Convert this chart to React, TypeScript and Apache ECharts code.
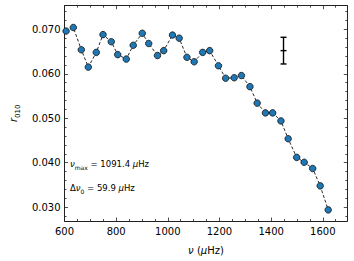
import React, { useEffect, useRef } from "react";
import * as echarts from "echarts";

const freq = [606, 634, 665, 692, 723, 749, 781, 806, 839, 866, 901, 926, 960, 984, 1018, 1044, 1074, 1102, 1135, 1162, 1196, 1224, 1257, 1285, 1318, 1346, 1378, 1406, 1438, 1466, 1499, 1528, 1561, 1590, 1621];
const r010 = [0.0696, 0.0704, 0.0654, 0.0615, 0.0648, 0.0688, 0.0672, 0.0643, 0.0633, 0.0664, 0.0691, 0.0668, 0.0641, 0.0652, 0.0687, 0.068, 0.0637, 0.0627, 0.0648, 0.0652, 0.0618, 0.059, 0.0591, 0.0596, 0.0571, 0.0534, 0.0512, 0.0512, 0.0494, 0.0454, 0.0412, 0.0401, 0.0387, 0.0348, 0.0294];

const errX = [1448];
const errY = [0.0652];
const errSigma = [0.003];

const xTicks = [600, 800, 1000, 1200, 1400, 1600];
const xMinor = [650, 700, 750, 850, 900, 950, 1050, 1100, 1150, 1250, 1300, 1350, 1450, 1500, 1550, 1650];
const yTicks = [0.03, 0.04, 0.05, 0.06, 0.07];
const yMinor = [0.028, 0.032, 0.034, 0.036, 0.038, 0.042, 0.044, 0.046, 0.048, 0.052, 0.054, 0.056, 0.058, 0.062, 0.064, 0.066, 0.068, 0.072, 0.074];

const X_MIN = 600;
const X_MAX = 1695;
const Y_MIN = 0.0269;
const Y_MAX = 0.0753;

const FONT = "DejaVu Sans";
const AX = "#222";

function xAxisDef(position: string, major: boolean, labels: boolean, extra: any = {}) {
  return {
    type: "value",
    position,
    min: X_MIN,
    max: X_MAX,
    splitLine: { show: false },
    axisLine: { show: major, onZero: false, lineStyle: { color: AX, width: 1 } },
    axisTick: {
      show: true,
      inside: true,
      length: major ? 3.5 : 2,
      customValues: major ? xTicks : xMinor,
      lineStyle: { color: AX, width: 0.8 },
    },
    axisLabel: {
      show: labels,
      customValues: xTicks,
      color: "#000",
      fontFamily: FONT,
      fontSize: 10,
      margin: 5,
      formatter: (v: number) => String(Math.round(v)),
    },
    ...extra,
  };
}

function yAxisDef(position: string, major: boolean, labels: boolean, extra: any = {}) {
  return {
    type: "value",
    position,
    min: Y_MIN,
    max: Y_MAX,
    splitLine: { show: false },
    axisLine: { show: major, onZero: false, lineStyle: { color: AX, width: 1 } },
    axisTick: {
      show: true,
      inside: true,
      length: major ? 3.5 : 2,
      customValues: major ? yTicks : yMinor,
      lineStyle: { color: AX, width: 0.8 },
    },
    axisLabel: {
      show: labels,
      customValues: yTicks,
      color: "#000",
      fontFamily: FONT,
      fontSize: 10,
      margin: 4,
      formatter: (v: number) => v.toFixed(3),
    },
    ...extra,
  };
}

const richText = {
  i: { fontFamily: FONT, fontStyle: "italic", fontSize: 8.5, fill: "#000", verticalAlign: "bottom", lineHeight: 10 },
  n: { fontFamily: FONT, fontSize: 8.5, fill: "#000", verticalAlign: "bottom", lineHeight: 10 },
  s: { fontFamily: FONT, fontSize: 6, fill: "#000", verticalAlign: "bottom", lineHeight: 8, padding: [0, 0, -2, 0] },
};

export default function App() {
  const ref = useRef<HTMLDivElement>(null);
  useEffect(() => {
    if (!ref.current) return;
    const chart = echarts.init(ref.current, null, { renderer: "svg" });
    const points = freq.map((f, i) => [f, r010[i]]);
    const errData = errX.map((x, i) => [x, errY[i], errSigma[i]]);
    chart.setOption({
      animation: false,
      backgroundColor: "#fff",
      grid: { left: 51, top: 5.7, right: 6.7, bottom: 32.7, containLabel: false },
      xAxis: [
        xAxisDef("bottom", true, true, {
          name: "{i|ν} {n|(}{i|μ}{n|Hz)}",
          nameLocation: "middle",
          nameGap: 23,
          nameTextStyle: {
            rich: {
              i: { fontFamily: FONT, fontStyle: "italic", fontSize: 10, color: "#000" },
              n: { fontFamily: FONT, fontSize: 10, color: "#000" },
            },
          },
        }),
        xAxisDef("bottom", false, false),
        xAxisDef("top", true, false),
        xAxisDef("top", false, false),
      ],
      yAxis: [
        yAxisDef("left", true, true, {
          name: "{i|r}{s|010}",
          nameLocation: "middle",
          nameGap: 37,
          nameRotate: 90,
          nameTextStyle: {
            rich: {
              i: { fontFamily: FONT, fontStyle: "italic", fontSize: 10, color: "#000", verticalAlign: "bottom", lineHeight: 12 },
              s: { fontFamily: FONT, fontSize: 7, color: "#000", verticalAlign: "bottom", lineHeight: 8, padding: [0, 0, -3, 0] },
            },
          },
        }),
        yAxisDef("left", false, false),
        yAxisDef("right", true, false),
        yAxisDef("right", false, false),
      ],
      graphic: [
        {
          type: "text",
          left: 70,
          top: 159,
          style: { text: "{i|ν}{s|max}{n| = 1091.4 }{i|μ}{n|Hz}", rich: richText },
        },
        {
          type: "text",
          left: 70,
          top: 183,
          style: { text: "{n|Δ}{i|ν}{s|0}{n| = 59.9 }{i|μ}{n|Hz}", rich: richText },
        },
      ],
      series: [
        {
          type: "line",
          xAxisIndex: 0,
          yAxisIndex: 0,
          data: points,
          symbol: "circle",
          symbolSize: 6.5,
          lineStyle: { color: "#111", width: 0.9, type: [3, 2] },
          itemStyle: { color: "#1f77b4", borderColor: "#111", borderWidth: 0.8 },
          z: 3,
        },
        {
          type: "custom",
          xAxisIndex: 0,
          yAxisIndex: 0,
          data: errData,
          renderItem: (params: any, api: any) => {
            const x = api.value(0);
            const y = api.value(1);
            const s = api.value(2);
            const top = api.coord([x, y + s]);
            const bot = api.coord([x, y - s]);
            const mid = api.coord([x, y]);
            const st = { stroke: "#000", lineWidth: 1.4 };
            const cw = 3;
            return {
              type: "group",
              children: [
                { type: "line", shape: { x1: top[0], y1: top[1], x2: bot[0], y2: bot[1] }, style: st },
                { type: "line", shape: { x1: top[0] - cw, y1: top[1], x2: top[0] + cw, y2: top[1] }, style: st },
                { type: "line", shape: { x1: bot[0] - cw, y1: bot[1], x2: bot[0] + cw, y2: bot[1] }, style: st },
                { type: "line", shape: { x1: mid[0] - cw, y1: mid[1], x2: mid[0] + cw, y2: mid[1] }, style: st },
              ],
            };
          },
        },
      ],
    });
    return () => chart.dispose();
  }, []);
  return <div ref={ref} style={{ width: 354, height: 261, position: "absolute", left: 0, top: 0 }} />;
}
